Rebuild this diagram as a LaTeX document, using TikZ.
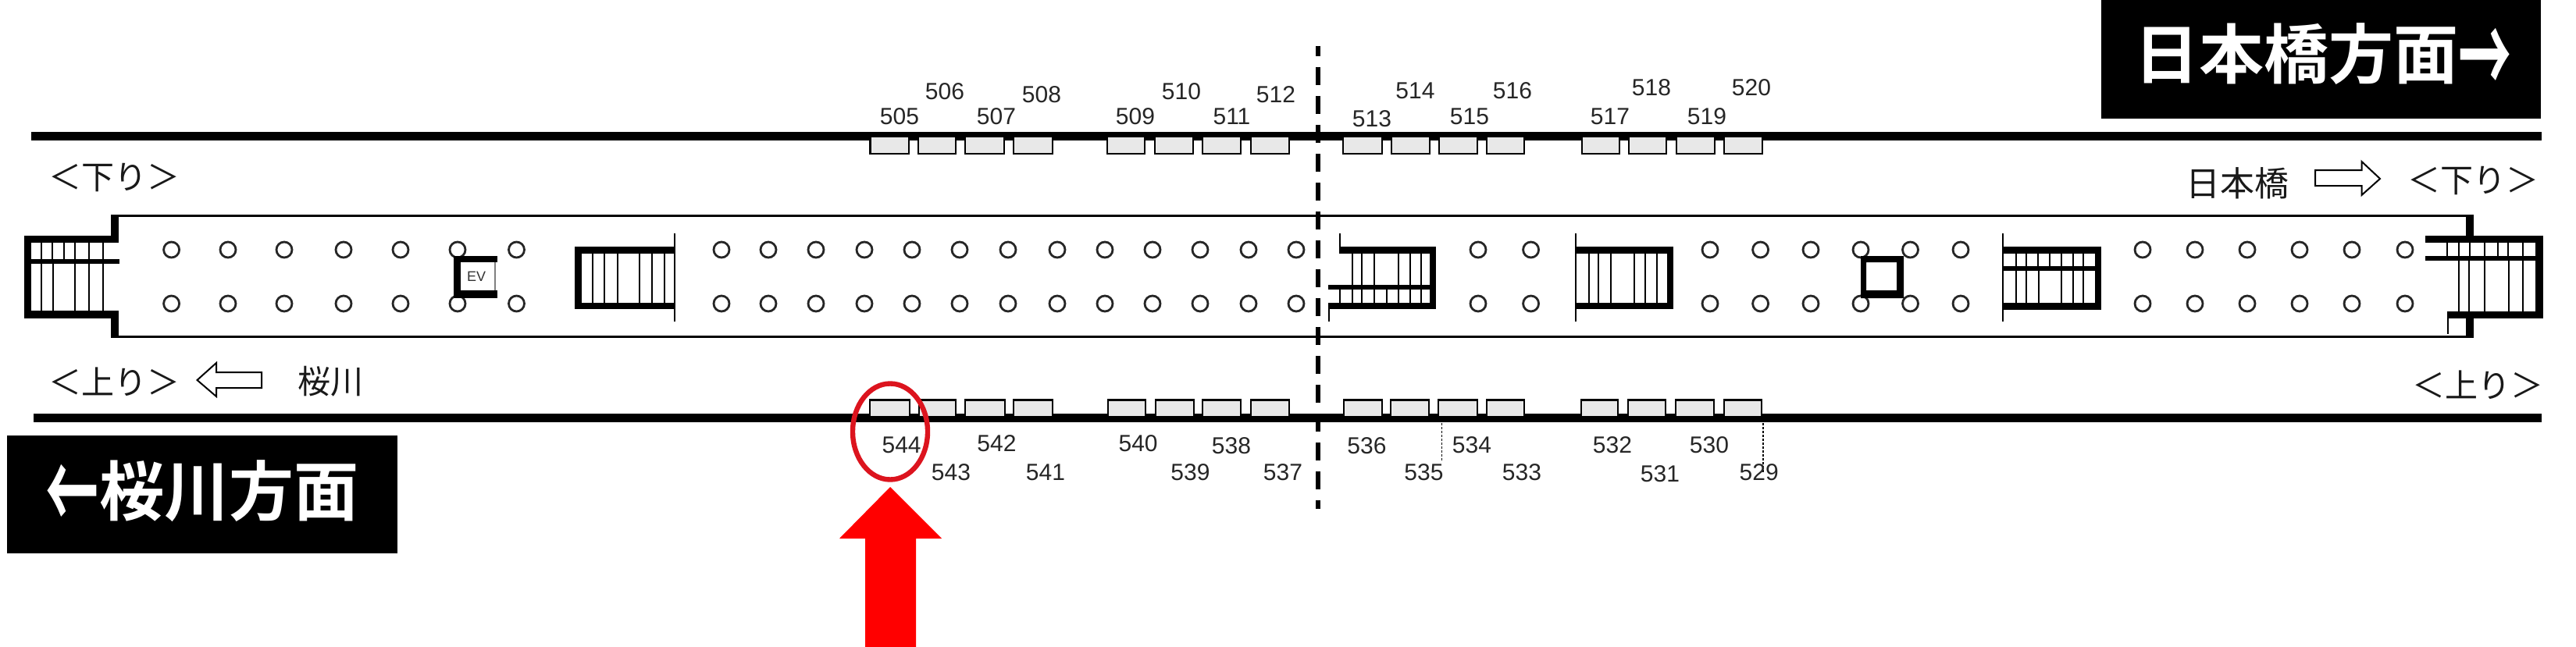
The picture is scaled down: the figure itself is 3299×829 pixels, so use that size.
\documentclass[tikz,border=0pt]{standalone}
\usepackage{graphicx}
\usepackage{fontspec}
\setmainfont{Liberation Sans}
\newfontfamily\cjk{Noto Sans CJK JP}
\newfontfamily\cjkb{Noto Sans CJK JP Bold}
\newcommand{\bigarrow}[1]{\raisebox{-0.27em}{\scalebox{0.82}[1.7]{#1}}}
\definecolor{boxgray}{HTML}{E8E8E8}
\definecolor{ringred}{HTML}{DC141E}
\tikzset{
  x=0.5pt,y=-0.5pt,
  rail/.style={fill=black,draw=none},
  wall/.style={fill=black,draw=none},
  tread/.style={line width=1.2pt,draw=black},
  thinwall/.style={line width=1.2pt,draw=black},
  pillar/.style={circle,draw=black!85,line width=1.4pt,fill=white,minimum size=10pt,inner sep=0pt},
  shop/.style={draw=black,fill=boxgray,line width=1.4pt},
  num/.style={font=\fontsize{15}{15}\selectfont,inner sep=0pt,text=black!85},
  jp/.style={font=\cjk\fontsize{21}{21}\selectfont,inner sep=0pt,text=black!90},
  hollow/.style={draw=black,line width=1pt,fill=white},
  head/.style={font=\cjkb\fontsize{41.5}{41.5}\selectfont,text=white,inner sep=0pt},
}
\begin{document}
\begin{tikzpicture}
\useasboundingbox (0,0) rectangle (3299,829);
\fill[white] (0,0) rectangle (3299,829);
% rails
\fill[rail] (40,169) rectangle (3255,179.5);
\fill[rail] (43,530) rectangle (3255,540.5);
% outline
\draw[line width=1.5pt] (142,276.5) -- (3168,276.5);
\draw[line width=1.5pt] (142,431.5) -- (3168,431.5);
\fill[wall] (142,275) rectangle (151.5,311);
\fill[wall] (142,398) rectangle (151.5,433);
\fill[wall] (3158,275) rectangle (3168,302);
\fill[wall] (3158,408) rectangle (3168,433);
% left stair
\fill[wall] (31,302) rectangle (151,311);
\fill[wall] (40,332) rectangle (153,338);
\fill[wall] (31,398) rectangle (151,408);
\fill[wall] (31,302) rectangle (40,408);
\foreach \x in {53,67,82,96,114,132} \draw[tread] (\x,311) -- (\x,332);
\foreach \x in {53,68,96,114,132} \draw[tread] (\x,338) -- (\x,398);
% stair 2
\fill[wall] (736,316) rectangle (865,325);
\fill[wall] (736,388) rectangle (865,396);
\fill[wall] (736,316) rectangle (745,396);
\draw[thinwall] (864,299) -- (864,412);
\foreach \x in {759,774,791,819,835,851} \draw[tread] (\x,325) -- (\x,388);
% stair 3
\fill[wall] (1715,316) rectangle (1839,325);
\fill[wall] (1831,316) rectangle (1839,396);
\fill[wall] (1701,365) rectangle (1832,371);
\fill[wall] (1701,388) rectangle (1839,396);
\draw[thinwall] (1716,299) -- (1716,325);
\draw[thinwall] (1702,388) -- (1702,412);
\foreach \x in {1732,1744,1760,1791,1806,1820} \draw[tread] (\x,325) -- (\x,365);
\foreach \x in {1716,1732,1744,1760,1776,1791,1806,1820} \draw[tread] (\x,371) -- (\x,388);
% stair 4
\fill[wall] (2018,316) rectangle (2143,325);
\fill[wall] (2018,388) rectangle (2143,396);
\fill[wall] (2135,316) rectangle (2143,396);
\draw[thinwall] (2018,299) -- (2018,412);
\foreach \x in {2035,2047,2063,2093,2107,2122} \draw[tread] (\x,325) -- (\x,388);
% stair 5
\fill[wall] (2565,316) rectangle (2691,325);
\fill[wall] (2565,388) rectangle (2691,397);
\fill[wall] (2683,316) rectangle (2691,397);
\fill[wall] (2566,341) rectangle (2683,347);
\draw[thinwall] (2565,299) -- (2565,412);
\foreach \x in {2582,2595,2610,2625,2640,2655,2668} \draw[tread] (\x,325) -- (\x,341);
\foreach \x in {2582,2595,2611,2640,2655,2668} \draw[tread] (\x,347) -- (\x,388);
% right stair
\fill[wall] (3106,302) rectangle (3257,311);
\fill[wall] (3106,328) rectangle (3247,334);
\fill[wall] (3134,399) rectangle (3257,408);
\fill[wall] (3247,302) rectangle (3257,408);
\draw[thinwall] (3135,399) -- (3135,428);
\foreach \x in {3134,3149,3163,3182,3199,3212,3231} \draw[tread] (\x,311) -- (\x,328);
\foreach \x in {3149,3162,3182,3213,3231} \draw[tread] (\x,334) -- (\x,399);
% pillars
\foreach \x in {219.6,292,364,440,513,586,661.5,924,984,1045,1107,1168,1229,1291,1354,1415,1476,1537,1599,1660,1893,1960.6,2190,2254.6,2319,2383,2446.5,2511,2744,2811,2878,2945,3012,3080}{
  \node[pillar] (pt\x) at (\x,320) {};
  \node[pillar] (pb\x) at (\x,389) {};
}
% EV
\fill[wall] (581,328) rectangle (637,336);
\fill[wall] (581,372) rectangle (637,382);
\fill[wall] (581,328) rectangle (590,382);
\fill[white] (590,336) rectangle (631,372);
\draw[line width=0.6pt,black!50] (634,336) -- (634,372);
\node[font=\fontsize{9}{9}\selectfont,inner sep=0pt,text=black!80] (ev) at (610,354) {EV};
% square
\fill[wall,even odd rule] (2383,328) rectangle (2438,382) (2390,336) rectangle (2429,372);
% shops
\foreach \a/\b in {1114.5/1164,1176/1224,1236/1286,1298/1348,1418/1466,1479/1528,1540/1589,1602/1651,1720/1770,1782/1831,1843/1892,1904/1952,2026/2074,2086/2134,2147/2196,2208/2257}
  \draw[shop] (\a,174.5) rectangle (\b,197);
\foreach \a/\b in {1114/1165,1177/1224,1236/1287,1298/1348,1419/1467,1480/1529,1540/1589,1602/1651,1721/1770,1781/1830,1842/1892,1904/1952,2025/2072,2085/2133,2146/2195,2208/2256}
  \draw[shop] (\a,512.5) rectangle (\b,534);
% dashed line
\draw[line width=3pt,dash pattern=on 11.5pt off 7pt,dash phase=5pt] (1688,59) -- (1688,652);
% dotted leaders
\coordinate (d1a) at (1846.5,542); \coordinate (d1b) at (1846.5,592);
\coordinate (d2a) at (2258,542); \coordinate (d2b) at (2258,607);
\draw[line width=0.7pt,dash pattern=on 1.5pt off 1pt] (d1a) -- (d1b);
\draw[line width=0.7pt,dash pattern=on 1.5pt off 1pt] (d2a) -- (d2b);
% numbers
\foreach \t/\x/\y in {505/1152/149,506/1210/117,507/1276/149,508/1334/121,509/1454/149,510/1513/117,511/1577.5/149,512/1634/121,513/1757/152,514/1812.5/116,515/1882/149,516/1937/116,517/2062/149,518/2115/112,519/2186/149,520/2243/112,544/1154.6/570,543/1218/605,542/1276.5/568,541/1339/605,540/1457.6/568,539/1524.5/605,538/1577/571,537/1643/605,536/1750.5/571,535/1823.5/605,534/1885/570,533/1949/605,532/2065/570,531/2126/607,530/2189/570,529/2252.7/605}
  \node[num] (n\t) at (\x,\y) {\t};
% japanese labels
\node[jp] (dl) at (146.5,228) {＜下り＞};
\node[jp] (ul) at (146.5,489) {＜上り＞};
\node[jp] (dr) at (3167,232) {＜下り＞};
\node[jp] (ur) at (3173,493) {＜上り＞};
\node[jp] (sk) at (423,489) {桜川};
\node[jp,font=\cjk\fontsize{22}{22}\selectfont] (nb) at (2865,235) {日本橋};
% hollow arrows
\draw[hollow] (252.5,487) -- (277,465) -- (277,477) -- (335,477) -- (335,497) -- (277,497) -- (277,508) -- cycle;
\draw[hollow] (3048,229) -- (3024.5,207) -- (3024.5,218) -- (2965,218) -- (2965,238) -- (3024.5,238) -- (3024.5,250) -- cycle;
% black banners
\fill[black] (2691,0) rectangle (3253.5,152);
\node[head,anchor=base] (bt) at (2975,101) {日本橋方面\bigarrow{→}};
\fill[black] (9,558) rectangle (509,709);
\node[head,anchor=base] (bb) at (259,660) {\bigarrow{←}桜川方面};
% red marks
\draw[ringred,line width=3.2pt] (1140,553) ellipse [x radius=48,y radius=61.5];
\fill[red] (1140,624) -- (1206,690) -- (1173,690) -- (1173,829) -- (1108,829) -- (1108,690) -- (1075,690) -- cycle;
\end{tikzpicture}
\end{document}
